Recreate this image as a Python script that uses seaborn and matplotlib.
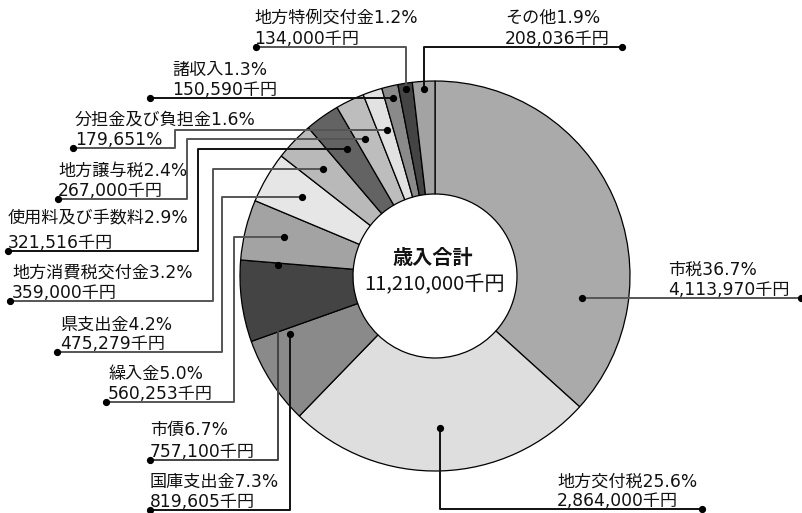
import numpy as np
import matplotlib
matplotlib.use("Agg")
import matplotlib.pyplot as plt
import seaborn as sns

# ---------------- data ----------------
categories = ["市税", "地方交付税", "国庫支出金", "市債", "繰入金", "県支出金",
              "地方消費税交付金", "使用料及び手数料", "地方譲与税", "分担金及び負担金",
              "諸収入", "地方特例交付金", "その他"]
amounts = [4113970, 2864000, 819605, 757100, 560253, 475279,
           359000, 321516, 267000, 179651, 150590, 134000, 208036]
percents = [36.7, 25.6, 7.3, 6.7, 5.0, 4.2, 3.2, 2.9, 2.4, 1.6, 1.3, 1.2, 1.9]
amount_units = ["千円"] * 9 + ["%"] + ["千円"] * 3
total_title = "歳入合計"
total_text = "11,210,000千円"

# ---------------- style ----------------
colors = ["#aaaaaa", "#dedede", "#8a8a8a", "#444444", "#a3a3a3", "#e6e6e6",
          "#b9b9b9", "#636363", "#bdbdbd", "#e2e2e2", "#8a8a8a", "#444444", "#a3a3a3"]
leader_colors = ["#555555", "#111111", "#111111", "#444444", "#555555", "#555555",
                 "#555555", "#111111", "#555555", "#555555", "#111111", "#555555", "#111111"]

sns.set_theme(style="white")
plt.rcParams["font.family"] = ["Noto Sans CJK JP", "DejaVu Sans"]
label_family = ["DejaVu Sans", "Noto Sans CJK JP"]

W, H = 802, 513
CX, CY = 435, 276          # centre in image pixels (y down)
R, HOLE = 195, 82

# anchor position inside each wedge: (fraction along wedge clockwise, radius)
anchor_t = [0.745, 0.50, 0.916, 0.97, 0.543, 0.523, 0.496, 0.56, 0.357, 0.588, 0.52, 0.507, 0.49]
anchor_r = [148.6, 152, 156, 157.6, 156, 154.7, 155, 154.5, 153.8, 153.7, 183, 189, 187]
# leader routes in image pixels
routes = [("h", 801), ("v", 509, 702), ("v", 510, 150), ("v", 460, 150),
          ("hvh", 234, 402, 106), ("hvh", 222, 352, 57), ("hvh", 213, 301, 10),
          ("hvh", 198, 251, 8), ("hvh", 187, 199, 58), ("hvh", 175, 148, 73),
          ("h", 150), ("v", 47, 256), ("v", 47, 622)]
text_x = [668, 557, 150, 150, 108, 60, 12, 8, 58, 75, 172, 254, 505]
row_gap = [20, 19, 20, 22, 20, 19, 20, 26, 20, 20, 20, 21, 21]

fig = plt.figure(figsize=(W / 100, H / 100), dpi=100)
ax = fig.add_axes([0, 0, 1, 1])
wedges, _ = ax.pie(amounts, colors=colors, startangle=90, counterclock=False,
                   radius=R, center=(CX, H - CY),
                   wedgeprops=dict(width=R - HOLE, edgecolor="black", linewidth=0.9))
ax.set_xlim(0, W)
ax.set_ylim(0, H)
ax.set_aspect("equal")
ax.axis("off")

def Y(y):
    return H - y

for i, w in enumerate(wedges):
    th = np.deg2rad(w.theta2 - anchor_t[i] * (w.theta2 - w.theta1))
    ax_x = CX + anchor_r[i] * np.cos(th)
    ax_y = (H - CY) + anchor_r[i] * np.sin(th)
    rt = routes[i]
    if rt[0] == "h":
        xs = [ax_x, rt[1]]
        ys = [ax_y, ax_y]
    elif rt[0] == "v":
        xs = [ax_x, ax_x, rt[2]]
        ys = [ax_y, Y(rt[1]), Y(rt[1])]
    else:
        xs = [ax_x, rt[1], rt[1], rt[3]]
        ys = [ax_y, ax_y, Y(rt[2]), Y(rt[2])]
    ax.plot(xs, ys, color=leader_colors[i], lw=1.4, solid_capstyle="butt", zorder=5)
    ax.plot([xs[0], xs[-1]], [ys[0], ys[-1]], "o", ms=4.2, color="black",
            zorder=6, clip_on=False)
    ly = ys[-1]
    ax.text(text_x[i], ly + 3 + row_gap[i], f"{categories[i]}{percents[i]:.1f}%",
            ha="left", va="baseline", fontsize=12.3, color="#111111",
            family=label_family)
    ax.text(text_x[i], ly + 3, f"{amounts[i]:,}{amount_units[i]}",
            ha="left", va="baseline", fontsize=12.3, color="#111111",
            family=label_family)

ax.text(CX - 2, Y(257), total_title, ha="center", va="center",
        fontsize=14.5, fontweight="bold", color="#111111")
ax.text(CX, Y(285), total_text, ha="center", va="center",
        fontsize=14.5, color="#111111")

fig.savefig("out.png", dpi=100, facecolor="white")
